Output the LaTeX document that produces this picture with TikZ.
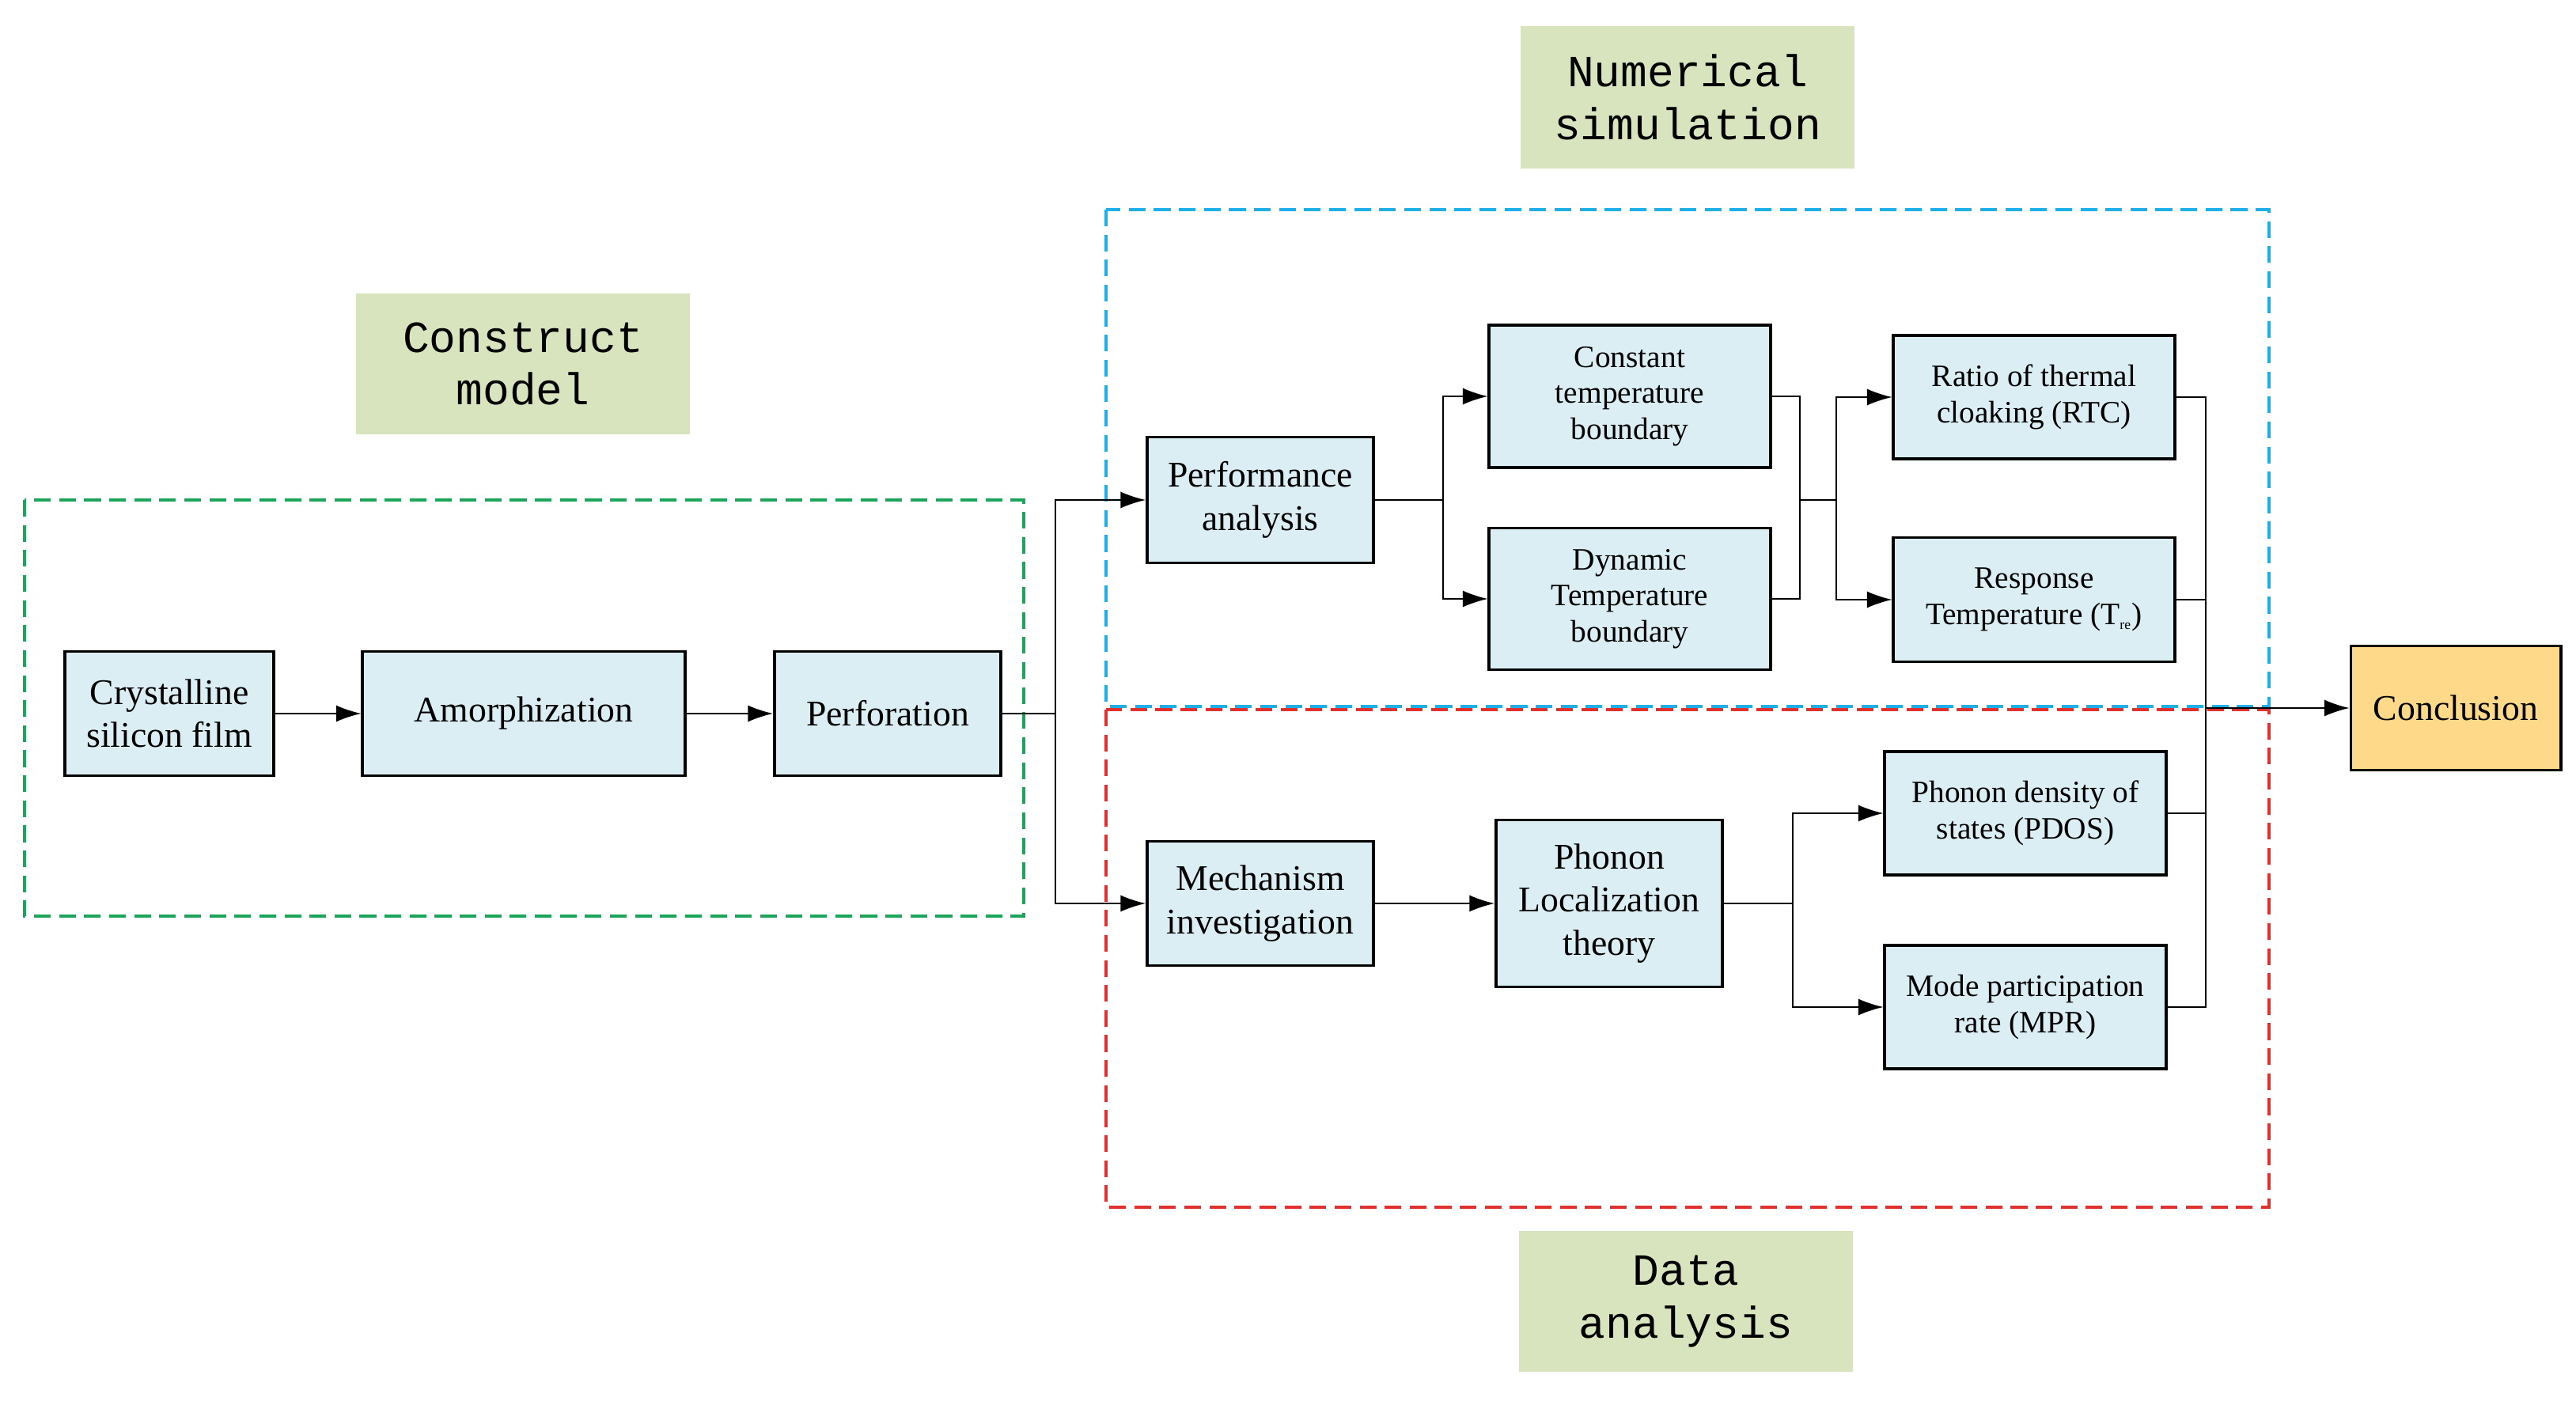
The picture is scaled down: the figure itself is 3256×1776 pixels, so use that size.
\documentclass[tikz,border=0pt]{standalone}
\usepackage{fontspec}
\setmainfont{Liberation Serif}
\newfontfamily\monof{Liberation Mono}
\usetikzlibrary{arrows.meta}
\definecolor{boxfill}{HTML}{DAEEF3}
\definecolor{labfill}{HTML}{D7E4BD}
\definecolor{concfill}{HTML}{FFD98A}
\definecolor{dgreen}{HTML}{1AA55A}
\definecolor{dblue}{HTML}{1EAEE8}
\definecolor{dred}{HTML}{E0312F}
\begin{document}
\begin{tikzpicture}[x=0.01cm,y=-0.01cm,
  box/.style={draw,line width=1.1pt,fill=boxfill,inner sep=1pt,align=center,font=\fontsize{13}{15.5}\selectfont},
  sbox/.style={box,font=\fontsize{11.2}{13}\selectfont},
  lab/.style={fill=labfill,align=center,inner sep=0pt,font=\monof\fontsize{16}{19}\selectfont},
  dsh/.style={line width=1.2pt,dash pattern=on 6pt off 3pt},
  con/.style={line width=0.5pt},
  arr/.style={con,-{Latex[length=9pt,width=6pt]}}]
\useasboundingbox (0,0) rectangle (3256,1776);
% dashed regions
\draw[dsh,dgreen] (31,632) rectangle (1294,1158);
\draw[dsh,dred] (1398,897) rectangle (2868,1526);
\draw[dsh,dblue] (1398,265) rectangle (2868,893);
% labels
\node[lab,minimum width=4.21cm,minimum height=1.8cm] (ns) at (2133,123) {Numerical\\simulation};
\node[lab,minimum width=4.21cm,minimum height=1.78cm] (cm) at (661,460) {Construct\\model};
\node[lab,minimum width=4.22cm,minimum height=1.77cm] (da) at (2131,1645) {Data\\analysis};
% boxes
\node[box,minimum width=2.63cm,minimum height=1.57cm] (cs) at (214,902) {Crystalline\\silicon film};
\node[box,minimum width=4.07cm,minimum height=1.57cm] (am) at (662,902) {Amorphization};
\node[box,minimum width=2.86cm,minimum height=1.57cm] (pf) at (1122,902) {Perforation};
\node[box,minimum width=2.86cm,minimum height=1.59cm] (pa) at (1593,632) {Performance\\analysis};
\node[box,minimum width=2.86cm,minimum height=1.57cm] (mi) at (1593,1142) {Mechanism\\investigation};
\node[sbox,minimum width=3.55cm,minimum height=1.8cm] (ct) at (2060,501) {Constant\\temperature\\boundary};
\node[sbox,minimum width=3.55cm,minimum height=1.79cm] (dt) at (2060,757) {Dynamic\\Temperature\\boundary};
\node[box,minimum width=2.86cm,minimum height=2.11cm] (pl) at (2034,1142) {Phonon\\Localization\\theory};
\node[sbox,minimum width=3.55cm,minimum height=1.56cm] (rtc) at (2571,502) {Ratio of thermal\\cloaking (RTC)};
\node[sbox,minimum width=3.55cm,minimum height=1.57cm] (rt) at (2571,758) {Response\\Temperature (T\textsubscript{\fontsize{5}{5}\selectfont re})};
\node[sbox,minimum width=3.55cm,minimum height=1.56cm] (pd) at (2560,1028) {Phonon density of\\states (PDOS)};
\node[sbox,minimum width=3.55cm,minimum height=1.56cm] (mp) at (2560,1273) {Mode participation\\rate (MPR)};
\node[box,fill=concfill,minimum width=2.65cm,minimum height=1.57cm] (co) at (3104,895) {Conclusion};
% connectors
\draw[arr] (cs) -- (am);
\draw[arr] (am) -- (pf);
\draw[arr] (pf.east) -- (1334,902) |- (pa.west);
\draw[arr] (pf.east) -- (1334,902) |- (mi.west);
\draw[arr] (pa.east) -- (1824,632) |- (ct.west);
\draw[arr] (pa.east) -- (1824,632) |- (dt.west);
\draw[con] (ct.east) -- (2275,501) |- (2321,632);
\draw[con] (dt.east) -- (2275,757) |- (2321,632);
\draw[arr] (2321,632) |- (rtc.west);
\draw[arr] (2321,632) |- (rt.west);
\draw[arr] (mi) -- (pl);
\draw[arr] (pl.east) -- (2266,1142) |- (pd.west);
\draw[arr] (pl.east) -- (2266,1142) |- (mp.west);
\coordinate (j) at (2788,895);
\draw[con] (rtc.east) -| (j);
\draw[con] (rt.east) -| (j);
\draw[con] (pd.east) -| (j);
\draw[con] (mp.east) -| (j);
\draw[arr] (j) -- (co);
\end{tikzpicture}
\end{document}
